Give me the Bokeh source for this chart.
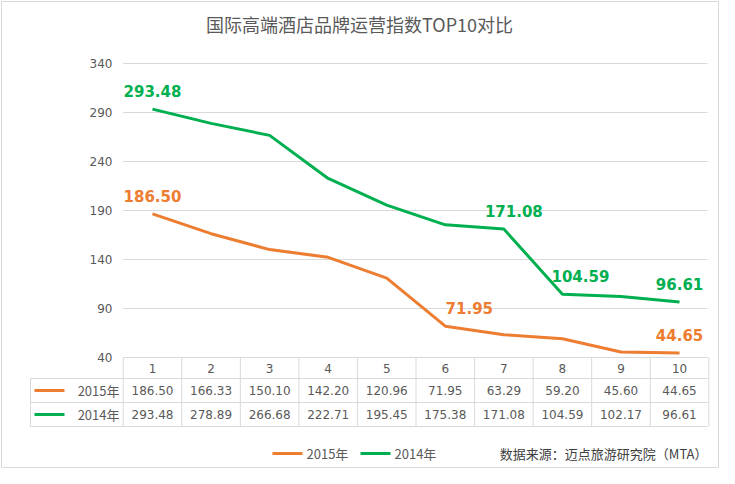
from bokeh.plotting import figure
from bokeh.embed import file_html
from bokeh.resources import INLINE
from bokeh.core.properties import value
from bokeh.models import ColumnDataSource

cats = [1,2,3,4,5,6,7,8,9,10]
s2015 = [186.50,166.33,150.10,142.20,120.96,71.95,63.29,59.20,45.60,44.65]
s2014 = [293.48,278.89,266.68,222.71,195.45,175.38,171.08,104.59,102.17,96.61]
yticks = [40,90,140,190,240,290,340]
names = ["2015年","2014年"]
colors = ["#ED7D31","#00B050"]
lab2015 = [1,6,10]
lab2014 = [1,7,8,10]
off2015 = [0,24,0]
off2014 = [0,10,18,0]

px = 1/58.56  # x units per px
py = 300/294  # y units per px
def X(img): return 1+(img-160)*px
def Y(img): return 40-(img-365)*py

p = figure(width=719, height=468, x_range=(X(8), X(727)), y_range=(Y(476), Y(8)),
           output_backend="svg", toolbar_location=None, min_border=0)
p.min_border_left=0; p.min_border_right=0; p.min_border_top=0; p.min_border_bottom=0
p.axis.visible=False; p.grid.visible=False
p.outline_line_color=None
CJK = value("Noto Sans CJK SC"); NUM = value("DejaVu Sans")
gray="#595959"; lc="#d9d9d9"

# outer border
p.quad(left=[X(9)], right=[X(726)], bottom=[Y(475)], top=[Y(9)], fill_color=None, line_color=lc)

# grid
p.segment(x0=[0.5]*len(yticks), x1=[X(715)]*len(yticks), y0=yticks, y1=yticks, line_color=lc, line_width=1)
p.text(x=[X(120)]*len(yticks), y=yticks, text=[str(t) for t in yticks], text_align="right",
       text_baseline="middle", text_font=NUM, text_font_size="12px", text_color=gray)
# title
p.text(x=[X(367)], y=[Y(31)], text=["国际高端酒店品牌运营指数TOP10对比"], text_align="center",
       text_baseline="middle", text_font=CJK, text_font_size="18px", text_color=gray)

# table
r_top, r1, r2, r3 = Y(365), Y(386), Y(410), Y(434)
xl = X(38)
p.segment(x0=[0.5, xl, xl, xl], x1=[X(715)]*4, y0=[r_top, r1, r2, r3], y1=[r_top, r1, r2, r3], line_color=lc)
vx = [c+0.5 for c in [0]+cats]
p.segment(x0=vx, x1=vx, y0=[r_top]*len(vx), y1=[r3]*len(vx), line_color=lc)
p.segment(x0=[xl], x1=[xl], y0=[r1], y1=[r3], line_color=lc)
p.text(x=cats, y=[(r_top+r1)/2]*10, text=[str(c) for c in cats], text_align="center",
       text_baseline="middle", text_font=NUM, text_font_size="12px", text_color=gray)
for s, yy, nm, col in [(s2015, (r1+r2)/2, names[0], colors[0]), (s2014, (r2+r3)/2, names[1], colors[1])]:
    p.text(x=cats, y=[yy]*10, text=["%.2f" % v for v in s], text_align="center",
           text_baseline="middle", text_font=NUM, text_font_size="12px", text_color=gray)
    p.segment(x0=[X(42)], x1=[X(72)], y0=[yy], y1=[yy], line_color=col, line_width=3)
    p.text(x=[X(127)], y=[yy], text=[nm], text_align="right", text_baseline="middle",
           text_font=CJK, text_font_size="13px", text_color=gray)

# lines
for s, col, labs, offs in [(s2015, colors[0], lab2015, off2015), (s2014, colors[1], lab2014, off2014)]:
    p.line(cats, s, line_color=col, line_width=3)
    src = ColumnDataSource(dict(x=labs, y=[s[i-1] for i in labs], t=["%.2f" % s[i-1] for i in labs], xo=offs))
    p.text(x="x", y="y", text="t", x_offset="xo", source=src, text_align="center",
           text_baseline="bottom", y_offset=-12, text_font=NUM, text_font_style="bold",
           text_font_size="15px", text_color=col)

# bottom legend
ly = Y(461)
for (a, b, t), nm, col in zip([(280, 310, 314), (368, 398, 402)], names, colors):
    p.segment(x0=[X(a)], x1=[X(b)], y0=[ly], y1=[ly], line_color=col, line_width=3)
    p.text(x=[X(t)], y=[ly], text=[nm], text_baseline="middle", text_font=CJK,
           text_font_size="13px", text_color=gray)
p.text(x=[X(715)], y=[ly], text=["数据来源：迈点旅游研究院（MTA）"], text_align="right",
       text_baseline="middle", text_font=CJK, text_font_size="13px", text_color="#404040")

open("out.html", "w").write(file_html(p, INLINE))
